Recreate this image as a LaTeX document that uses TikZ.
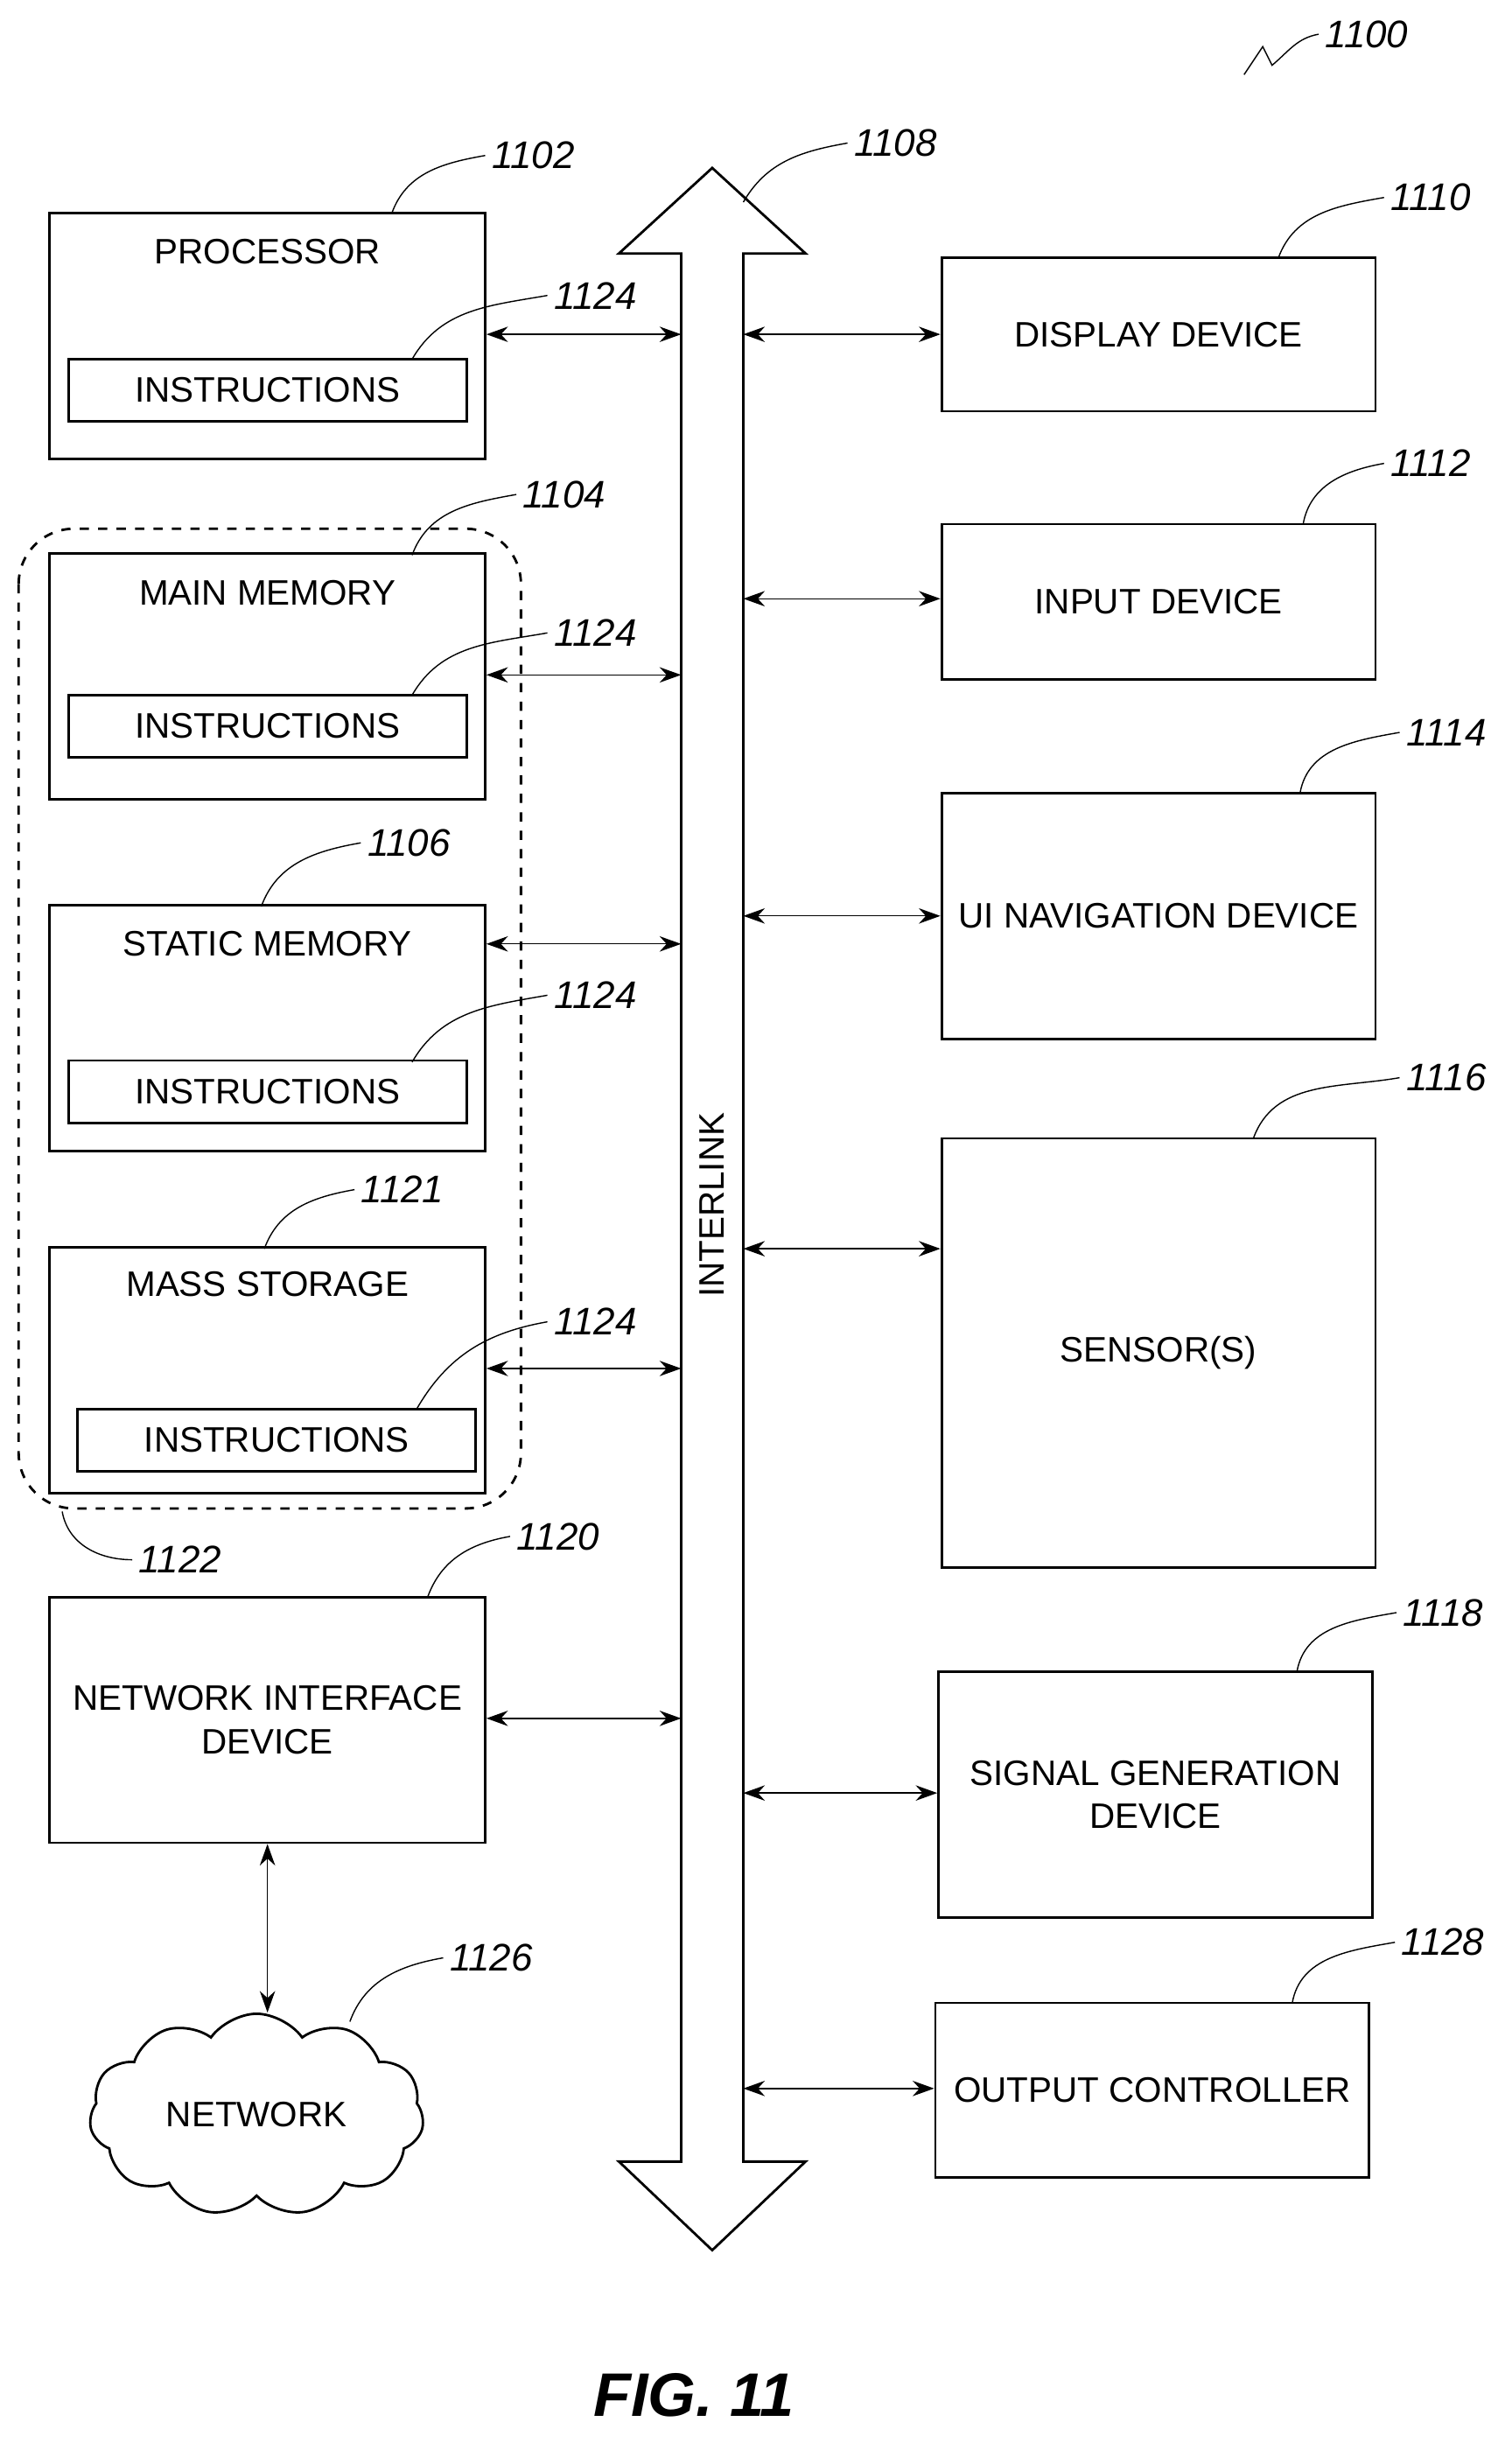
\documentclass[tikz,border=0pt]{standalone}
\usepackage{fontspec}
\setmainfont{Liberation Sans}
\usetikzlibrary{shapes.symbols,arrows.meta}
\tikzset{
  box/.style={draw,thick,inner sep=0pt},
  title/.style={font=\fontsize{11.5}{14}\selectfont,align=center},
  num/.style={font=\itshape\fontsize{12.5}{15}\selectfont,anchor=west,inner sep=2pt},
  lead/.style={thin},
  link/.style={thin,{Stealth[length=7pt,width=5pt]}-{Stealth[length=7pt,width=5pt]}}
}
\begin{document}
\begin{tikzpicture}[x=0.01778cm,y=-0.01778cm]
  \useasboundingbox (0,0) rectangle (972,1580);
  % left column
  \foreach \n/\y/\t/\ty/\iy/\ix in {proc/216/PROCESSOR/162/251/172,main/435/MAIN MEMORY/381/467/172,stat/661/STATIC MEMORY/607/702/172,mass/881/MASS STORAGE/826/926/178}{
    \node[box,minimum width=280*0.01778cm,minimum height=158*0.01778cm] (\n) at (172,\y) {};
    \node[title] (\n-t) at (172,\ty) {\t};
    \node[box,minimum width=256*0.01778cm,minimum height=40*0.01778cm,title] (\n-i) at (\ix,\iy) {INSTRUCTIONS};
  }
  \draw[thick,dashed,rounded corners=18pt] (12,340) rectangle (335,970);
  \node[box,minimum width=280*0.01778cm,minimum height=158*0.01778cm,title] (nic) at (172,1106) {NETWORK INTERFACE\\DEVICE};
  \node[cloud,draw,thick,cloud puffs=11,cloud puff arc=110,aspect=1.7,minimum width=215*0.01778cm,minimum height=125*0.01778cm,title] (net) at (165,1360) {NETWORK};
  % interlink
  \draw[thick] (438,163) -- (398,163) -- (458,108) -- (518,163) -- (478,163) -- (478,1390)
    -- (518,1390) -- (458,1447) -- (398,1390) -- (438,1390) -- cycle;
  \node[title,rotate=90] (bus) at (458,775) {INTERLINK};
  % right column
  \node[box,minimum width=279*0.01778cm,minimum height=99*0.01778cm,title] (disp) at (745,215) {DISPLAY DEVICE};
  \node[box,minimum width=279*0.01778cm,minimum height=100*0.01778cm,title] (inp) at (745,387) {INPUT DEVICE};
  \node[box,minimum width=279*0.01778cm,minimum height=158*0.01778cm,title] (ui) at (745,589) {UI NAVIGATION DEVICE};
  \node[box,minimum width=279*0.01778cm,minimum height=276*0.01778cm,title] (sens) at (745,870) {SENSOR(S)};
  \node[box,minimum width=279*0.01778cm,minimum height=158*0.01778cm,title] (sig) at (743,1154) {SIGNAL GENERATION\\DEVICE};
  \node[box,minimum width=279*0.01778cm,minimum height=112*0.01778cm,title] (out) at (741,1344) {OUTPUT CONTROLLER};
  % connections
  \foreach \n/\y in {proc/215,main/434,stat/607,mass/880,nic/1105}
    \draw[link] (\n.east |- 0,\y) -- (438,\y);
  \foreach \n/\y in {disp/215,inp/385,ui/589,sens/803,sig/1153,out/1343}
    \draw[link] (478,\y) -- (\n.west |- 0,\y);
  \draw[link] (nic.south -| 172,0) -- (net.north -| 172,0);
  % reference numerals
  \draw[lead] (800,48) -- (812,30) -- (818,42) to[out=40,in=190] (848,22) node[num] {1100};
  \draw[lead] (252,137) to[out=70,in=190] (312,100) node[num] {1102};
  \draw[lead] (478,130) to[out=60,in=190] (545,92) node[num] {1108};
  \draw[lead] (822,166) to[out=70,in=190] (890,127) node[num] {1110};
  \draw[lead] (838,337) to[out=80,in=190] (890,298) node[num] {1112};
  \draw[lead] (836,510) to[out=80,in=190] (900,471) node[num] {1114};
  \draw[lead] (806,732) to[out=70,in=190] (900,693) node[num] {1116};
  \draw[lead] (834,1075) to[out=80,in=190] (898,1037) node[num] {1118};
  \draw[lead] (831,1288) to[out=80,in=190] (897,1249) node[num] {1128};
  \draw[lead] (265,357) to[out=70,in=190] (332,318) node[num] {1104};
  \draw[lead] (168,583) to[out=70,in=190] (232,542) node[num] {1106};
  \draw[lead] (170,803) to[out=70,in=190] (228,765) node[num] {1121};
  \draw[lead] (275,1027) to[out=70,in=190] (328,988) node[num] {1120};
  \draw[lead] (225,1300) to[out=70,in=190] (285,1259) node[num] {1126};
  \draw[lead] (40,972) to[out=-80,in=180] (85,1003) node[num] {1122};
  \foreach \x/\y/\ly in {265/231/190,265/447/407,265/683/640,268/906/850}
    \draw[lead] (\x,\y) to[out=60,in=190] (352,\ly) node[num] {1124};
  \node[font=\bfseries\itshape\fontsize{20}{24}\selectfont] (fig) at (446,1540) {FIG. 11};
\end{tikzpicture}
\end{document}
